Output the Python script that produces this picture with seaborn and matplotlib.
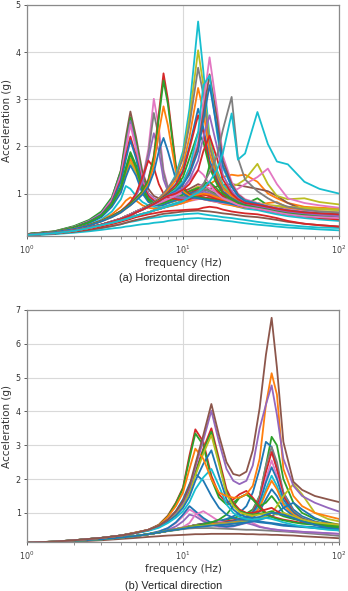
import numpy as np
import pandas as pd
import matplotlib
matplotlib.use("Agg")
import matplotlib.pyplot as plt
import seaborn as sns

# ---------------- data: panel (a) horizontal ----------------
h_freq = [1, 1.5, 2, 2.5, 3, 3.5, 4, 4.3,
          4.6, 5, 5.5, 6, 6.5, 7, 7.5, 8,
          9, 10, 11, 12.5, 13.5, 14.8, 16.5, 18,
          20.5, 22.5, 25, 30, 35, 40, 47, 60, 75, 100]

# low curves (drawn first)
h_low = [
    [0.11,0.14,0.17,0.2,0.23,0.26,0.28,0.3, 0.31,0.33,0.35,0.36,0.38,0.39,0.4,0.42, 0.44,0.46,0.47,0.48,0.47,0.46,0.45,0.43, 0.41,0.39,0.37,0.34,0.32,0.3,0.28,0.26,0.24,0.22],
    [0.12,0.15,0.19,0.23,0.27,0.31,0.35,0.38, 0.4,0.42,0.45,0.47,0.49,0.5,0.52,0.53, 0.54,0.56,0.57,0.58,0.56,0.54,0.52,0.5, 0.48,0.46,0.44,0.4,0.37,0.35,0.33,0.3,0.28,0.27],
    [0.12,0.15,0.19,0.23,0.27,0.31,0.35,0.38, 0.41,0.44,0.47,0.5,0.52,0.55,0.57,0.58, 0.6,0.62,0.63,0.64,0.63,0.62,0.6,0.58, 0.56,0.54,0.52,0.5,0.47,0.44,0.4,0.36,0.33,0.3],
    [0.12,0.16,0.2,0.25,0.3,0.35,0.4,0.43, 0.46,0.5,0.53,0.56,0.58,0.6,0.62,0.63, 0.64,0.65,0.66,0.67,0.7,0.72,0.7,0.66, 0.62,0.6,0.58,0.56,0.52,0.48,0.42,0.36,0.33,0.3],
]
h_low_colors = ["tab:cyan", "tab:cyan", "tab:brown", "tab:red"]

# broad mid-frequency curves
h_mid = [
    [0.12,0.16,0.21,0.27,0.33,0.38,0.43,0.46, 0.49,0.53,0.57,0.6,0.64,0.67,0.7,0.73, 0.78,0.84,0.9,1.0,1.1,1.2,1.3,1.35, 1.4,1.38,1.4,1.25,1.0,0.9,0.8,0.72,0.7,0.68],
    [0.12,0.16,0.21,0.27,0.33,0.38,0.43,0.46, 0.49,0.53,0.57,0.6,0.64,0.67,0.7,0.73, 0.78,0.84,0.9,0.98,1.05,1.1,1.15,1.18, 1.2,1.18,1.15,1.1,1.05,0.95,0.8,0.65,0.6,0.58],
    [0.12,0.16,0.21,0.27,0.33,0.38,0.43,0.46, 0.49,0.53,0.57,0.6,0.64,0.67,0.7,0.73, 0.76,0.8,0.85,0.9,0.95,1.0,1.05,1.1, 1.15,1.2,1.3,1.63,1.2,0.95,0.88,0.9,0.82,0.77],
    [0.12,0.16,0.21,0.27,0.33,0.38,0.43,0.46, 0.49,0.53,0.57,0.6,0.64,0.67,0.7,0.73, 0.76,0.8,0.84,0.88,0.9,0.92,0.95,1.0, 1.05,1.1,1.2,1.35,1.53,1.2,0.9,0.8,0.75,0.7],
]
h_mid_colors = ["tab:orange", "tab:brown", "tab:olive", "tab:pink"]

# peaks near 4.6 Hz
h_peak_4_6 = [
    [0.14,0.2,0.3,0.43,0.6,0.9,1.5,2.2, 2.74,2.2,1.45,1.1,0.95,0.9,0.92,0.95, 1.0,1.05,1.1,1.2,1.15,1.1,1.0,0.95, 0.9,0.85,0.8,0.8,0.72,0.68,0.62,0.6,0.58,0.55],
    [0.14,0.2,0.31,0.44,0.62,0.92,1.48,2.1, 2.61,2.1,1.35,1.0,0.88,0.82,0.85,0.9, 0.95,1.0,1.05,1.1,1.2,1.25,1.1,0.95, 0.85,0.8,0.75,0.78,0.7,0.66,0.6,0.58,0.56,0.55],
    [0.14,0.19,0.29,0.42,0.58,0.88,1.42,2.0, 2.54,2.0,1.3,1.0,0.9,0.85,0.85,0.88, 0.92,0.95,1.0,1.1,1.05,1.0,0.95,0.88, 0.82,0.78,0.72,0.7,0.65,0.62,0.58,0.55,0.52,0.5],
    [0.14,0.19,0.29,0.41,0.57,0.86,1.38,1.95, 2.46,1.95,1.25,0.98,0.88,0.84,0.86,0.9, 0.95,1.0,1.05,1.15,1.2,1.1,1.0,0.9, 0.85,0.8,0.75,0.72,0.66,0.62,0.58,0.54,0.5,0.48],
    [0.14,0.19,0.28,0.4,0.55,0.82,1.3,1.8, 2.21,1.8,1.2,0.95,0.85,0.8,0.82,0.85, 0.9,0.95,1.0,1.1,1.15,1.2,1.05,0.95, 0.9,0.85,0.8,0.78,0.7,0.66,0.6,0.56,0.55,0.52],
    [0.14,0.19,0.28,0.4,0.55,0.8,1.25,1.72, 2.13,1.75,1.15,0.9,0.82,0.78,0.8,0.82, 0.88,0.92,0.98,1.05,1.0,0.95,0.9,0.85, 0.8,0.76,0.72,0.7,0.65,0.62,0.58,0.55,0.52,0.5],
    [0.14,0.19,0.28,0.39,0.53,0.78,1.15,1.55, 1.88,1.6,1.1,0.88,0.8,0.76,0.78,0.8, 0.85,0.9,0.95,1.0,1.1,1.6,1.3,1.0, 0.88,0.82,0.76,0.72,0.66,0.62,0.58,0.55,0.54,0.52],
    [0.14,0.19,0.27,0.38,0.52,0.75,1.08,1.4, 1.67,1.45,1.05,0.85,0.78,0.75,0.78,0.82, 0.88,0.95,1.05,1.15,1.1,1.05,0.95,0.88, 0.82,0.78,0.74,0.72,0.7,0.72,0.7,0.68,0.66,0.65],
    [0.14,0.19,0.27,0.38,0.52,0.76,1.1,1.45, 1.74,1.5,1.05,0.85,0.78,0.74,0.76,0.8, 0.85,0.9,0.95,1.0,0.98,0.95,0.9,0.85, 0.8,0.75,0.7,0.68,0.64,0.6,0.56,0.52,0.5,0.48],
    [0.14,0.19,0.27,0.37,0.5,0.72,1.02,1.35, 1.6,1.38,1.0,0.82,0.76,0.74,0.76,0.8, 0.86,0.92,1.0,1.05,1.0,0.95,0.9,0.85, 0.8,0.76,0.72,0.7,0.66,0.62,0.58,0.55,0.52,0.5],
    [0.14,0.19,0.28,0.39,0.53,0.77,1.12,1.5, 1.83,1.55,1.08,0.86,0.8,0.78,0.8,0.84, 0.9,0.98,1.05,1.12,1.1,1.05,0.98,0.9, 0.85,0.8,0.78,0.9,0.75,0.7,0.66,0.62,0.6,0.58],
    [0.13,0.18,0.25,0.34,0.45,0.62,0.88,1.16, 1.1,0.95,0.82,0.75,0.72,0.7,0.72,0.75, 0.8,0.85,0.9,0.95,0.92,0.88,0.84,0.8, 0.76,0.72,0.68,0.65,0.6,0.56,0.52,0.48,0.45,0.42],
    [0.13,0.18,0.25,0.33,0.43,0.56,0.72,0.85, 0.92,0.85,0.75,0.7,0.68,0.68,0.7,0.72, 0.76,0.8,0.85,0.9,0.88,0.85,0.82,0.78, 0.75,0.72,0.7,0.75,0.8,0.82,0.7,0.65,0.62,0.6],
]
h_peak_4_6_colors = ["tab:brown", "tab:green", "tab:purple", "tab:pink", "tab:red", "tab:blue",
                     "tab:green", "tab:olive", "tab:orange", "tab:blue", "tab:green", "tab:cyan", "tab:orange"]

# peaks near 6.5 Hz
h_peak_6_5 = [
    [0.13,0.18,0.25,0.33,0.42,0.52,0.62,0.7, 0.78,0.95,1.3,1.95,3.01,2.4,1.5,1.15, 0.95,0.9,0.88,0.9,0.88,0.85,0.82,0.8, 0.78,0.75,0.72,0.7,0.66,0.62,0.58,0.55,0.52,0.5],
    [0.13,0.18,0.25,0.33,0.42,0.52,0.63,0.72, 0.8,0.98,1.3,1.85,2.71,2.2,1.45,1.1, 0.95,0.92,0.95,1.05,1.1,1.05,0.95,0.9, 0.85,0.8,0.76,0.72,0.68,0.65,0.6,0.58,0.56,0.55],
    [0.13,0.18,0.25,0.33,0.42,0.52,0.62,0.7, 0.78,0.95,1.25,1.75,2.28,1.9,1.3,1.05, 0.92,0.9,0.92,1.0,1.05,1.0,0.92,0.85, 0.8,0.76,0.72,0.7,0.66,0.62,0.58,0.55,0.52,0.5],
    [0.13,0.18,0.25,0.33,0.42,0.52,0.63,0.72, 0.82,1.0,1.35,1.7,1.55,1.2,1.0,0.92, 0.88,0.86,0.88,0.95,0.98,0.95,0.9,0.85, 0.8,0.76,0.72,0.7,0.66,0.62,0.58,0.55,0.52,0.5],
]
h_peak_6_5_colors = ["tab:pink", "tab:gray", "tab:purple", "tab:red"]

# peaks near 7.5 Hz
h_peak_7_5 = [
    [0.13,0.18,0.25,0.33,0.42,0.52,0.62,0.7, 0.78,0.9,1.05,1.3,1.8,2.7,3.55,3.0, 1.6,1.15,0.98,0.95,0.92,0.9,0.88,0.85, 0.8,0.76,0.72,0.68,0.64,0.6,0.56,0.52,0.48,0.45],
    [0.13,0.18,0.25,0.33,0.42,0.52,0.62,0.7, 0.78,0.9,1.05,1.28,1.75,2.6,3.4,2.9, 1.55,1.1,0.95,0.92,0.9,0.88,0.85,0.82, 0.8,0.76,0.72,0.7,0.66,0.62,0.58,0.55,0.52,0.5],
    [0.13,0.18,0.25,0.32,0.41,0.5,0.6,0.68, 0.75,0.86,1.0,1.2,1.6,2.3,2.85,2.45, 1.45,1.05,0.95,0.98,1.0,0.98,0.92,0.88, 0.82,0.78,0.74,0.7,0.66,0.62,0.58,0.55,0.52,0.5],
    [0.13,0.18,0.25,0.32,0.41,0.5,0.6,0.68, 0.75,0.85,0.98,1.15,1.45,1.9,2.18,1.9, 1.3,1.0,0.92,0.9,0.88,0.86,0.84,0.82, 0.78,0.75,0.72,0.68,0.64,0.6,0.56,0.52,0.5,0.48],
]
h_peak_7_5_colors = ["tab:red", "tab:green", "tab:orange", "tab:blue"]

# peaks near 12.5 Hz
h_peak_12_5 = [
    [0.12,0.16,0.22,0.28,0.34,0.4,0.46,0.5, 0.54,0.6,0.66,0.72,0.8,0.88,0.98,1.1, 1.4,1.9,2.8,4.65,3.6,2.2,1.5,1.2, 1.0,0.9,0.82,0.76,0.7,0.66,0.62,0.6,0.58,0.56],
    [0.12,0.16,0.22,0.28,0.34,0.4,0.46,0.5, 0.54,0.6,0.66,0.72,0.8,0.88,0.98,1.1, 1.35,1.8,2.6,4.04,3.3,2.1,1.45,1.15, 0.98,0.9,0.84,0.8,0.76,0.74,0.72,0.7,0.68,0.66],
    [0.12,0.16,0.22,0.28,0.34,0.41,0.47,0.52, 0.56,0.62,0.68,0.75,0.82,0.9,1.0,1.12, 1.35,1.75,2.45,3.67,3.1,2.0,1.4,1.12, 0.95,0.85,0.78,0.72,0.68,0.64,0.6,0.58,0.56,0.55],
    [0.12,0.16,0.22,0.28,0.34,0.41,0.47,0.52, 0.56,0.62,0.68,0.74,0.8,0.88,0.96,1.06, 1.28,1.6,2.2,3.24,2.75,1.85,1.35,1.1, 0.95,0.88,0.8,0.75,0.7,0.66,0.62,0.6,0.58,0.56],
    [0.12,0.16,0.22,0.28,0.34,0.41,0.47,0.52, 0.56,0.62,0.68,0.74,0.8,0.86,0.94,1.02, 1.2,1.5,2.0,2.8,2.4,1.7,1.3,1.05, 0.9,0.82,0.76,0.72,0.68,0.64,0.6,0.56,0.54,0.52],
    [0.12,0.16,0.22,0.28,0.34,0.41,0.47,0.52, 0.56,0.62,0.68,0.74,0.8,0.86,0.93,1.0, 1.18,1.45,1.95,2.66,2.3,1.6,1.25,1.02, 0.88,0.8,0.74,0.7,0.66,0.62,0.58,0.54,0.5,0.46],
    [0.12,0.16,0.22,0.28,0.34,0.41,0.47,0.52, 0.56,0.62,0.68,0.74,0.8,0.86,0.92,0.98, 1.12,1.35,1.75,2.3,2.1,1.55,1.2,1.0, 0.88,0.8,0.75,0.7,0.66,0.62,0.58,0.55,0.52,0.5],
    [0.12,0.16,0.22,0.28,0.34,0.41,0.47,0.52, 0.56,0.62,0.68,0.72,0.76,0.8,0.84,0.88, 0.96,1.08,1.28,1.5,1.4,1.2,1.0,0.9, 0.82,0.76,0.72,0.68,0.64,0.6,0.56,0.52,0.5,0.48],
]
h_peak_12_5_colors = ["tab:cyan", "tab:olive", "tab:gray", "tab:orange", "tab:blue", "tab:red", "tab:green", "tab:pink"]

# peaks near 14.8 Hz
h_peak_14_8 = [
    [0.12,0.16,0.22,0.28,0.34,0.4,0.46,0.5, 0.54,0.6,0.66,0.72,0.78,0.84,0.9,0.96, 1.08,1.25,1.5,2.1,2.9,3.89,2.8,1.8, 1.25,1.0,0.88,0.8,0.74,0.7,0.66,0.62,0.6,0.58],
    [0.12,0.16,0.22,0.28,0.34,0.4,0.46,0.5, 0.54,0.6,0.66,0.72,0.78,0.84,0.9,0.96, 1.06,1.2,1.45,2.0,2.7,3.53,2.6,1.7, 1.2,0.98,0.86,0.78,0.72,0.68,0.64,0.6,0.56,0.52],
    [0.12,0.16,0.22,0.28,0.34,0.4,0.46,0.5, 0.54,0.6,0.66,0.72,0.78,0.84,0.9,0.96, 1.08,1.25,1.55,2.3,3.3,3.5,2.3,1.55, 1.15,0.95,0.85,0.78,0.72,0.68,0.64,0.6,0.58,0.56],
    [0.12,0.16,0.22,0.28,0.34,0.4,0.46,0.5, 0.54,0.6,0.66,0.72,0.78,0.84,0.9,0.96, 1.05,1.2,1.4,1.9,2.55,3.3,2.4,1.6, 1.15,0.95,0.84,0.78,0.72,0.68,0.64,0.6,0.58,0.56],
    [0.12,0.16,0.22,0.28,0.34,0.4,0.46,0.5, 0.54,0.6,0.66,0.72,0.78,0.84,0.9,0.95, 1.02,1.12,1.3,1.7,2.2,2.66,2.0,1.4, 1.05,0.9,0.8,0.74,0.7,0.66,0.62,0.58,0.55,0.52],
    [0.12,0.16,0.22,0.28,0.34,0.4,0.46,0.5, 0.54,0.6,0.66,0.72,0.78,0.84,0.9,0.95, 1.0,1.08,1.2,1.5,1.9,2.23,1.75,1.3, 1.0,0.88,0.8,0.76,0.72,0.68,0.64,0.6,0.58,0.56],
]
h_peak_14_8_colors = ["tab:pink", "tab:brown", "tab:cyan", "tab:blue", "tab:purple", "tab:red"]

# peaks above 20 Hz
h_peak_high = [
    [0.12,0.16,0.21,0.27,0.33,0.38,0.43,0.46, 0.49,0.53,0.57,0.6,0.64,0.67,0.7,0.73, 0.78,0.84,0.92,1.05,1.2,1.45,1.8,2.35, 3.05,1.75,1.3,1.05,0.9,0.8,0.72,0.66,0.62,0.6],
    [0.12,0.16,0.21,0.27,0.33,0.38,0.43,0.46, 0.49,0.53,0.57,0.6,0.64,0.67,0.7,0.73, 0.78,0.84,0.92,1.02,1.12,1.25,1.5,1.85, 2.7,1.72,1.85,2.73,2.05,1.68,1.62,1.25,1.1,1.0],
]
h_peak_high_colors = ["tab:gray", "tab:cyan"]

# ---------------- data: panel (b) vertical ----------------
v_freq = [1, 1.5, 2, 3, 4, 5, 6, 7,
          8, 9, 10, 11, 12, 13.5, 15.2, 17,
          19, 21, 23, 25.5, 28, 31, 34, 37,
          40, 44, 51, 58, 70, 85, 100]

v_low = [
    [0.11,0.13,0.15,0.19,0.23,0.26,0.29,0.31, 0.33,0.34,0.35,0.36,0.37,0.37,0.38,0.38, 0.38,0.38,0.38,0.37,0.37,0.36,0.36,0.35, 0.35,0.34,0.33,0.31,0.29,0.27,0.25],
    [0.12,0.14,0.17,0.22,0.27,0.32,0.37,0.42, 0.46,0.49,0.52,0.54,0.55,0.55,0.55,0.54, 0.53,0.52,0.51,0.5,0.5,0.49,0.48,0.47, 0.46,0.45,0.43,0.41,0.38,0.35,0.32],
    [0.12,0.14,0.17,0.22,0.27,0.32,0.37,0.45, 0.55,0.7,0.9,1.1,1.0,0.8,0.65,0.6, 0.62,0.68,0.75,0.8,0.7,0.6,0.55,0.52, 0.5,0.48,0.46,0.44,0.42,0.4,0.38],
    [0.12,0.14,0.17,0.22,0.27,0.32,0.37,0.43, 0.5,0.6,0.75,0.95,0.9,0.75,0.65,0.6, 0.58,0.6,0.65,0.7,0.65,0.58,0.55,0.52, 0.5,0.48,0.46,0.44,0.42,0.4,0.38],
    [0.12,0.14,0.17,0.22,0.27,0.32,0.38,0.45, 0.55,0.72,0.95,1.2,1.05,0.85,0.7,0.62, 0.6,0.62,0.66,0.72,0.75,0.72,0.7,0.68, 0.65,0.62,0.6,0.58,0.55,0.52,0.5],
]
v_low_colors = ["tab:brown", "tab:gray", "tab:pink", "tab:purple", "tab:blue"]

# peaks near 37 Hz and above
v_peak_37 = [
    [0.12,0.14,0.17,0.22,0.27,0.32,0.37,0.42, 0.47,0.52,0.56,0.6,0.64,0.68,0.72,0.76, 0.8,0.85,0.9,0.98,1.1,1.5,2.4,3.25, 3.0,2.0,1.3,1.0,0.82,0.72,0.65],
    [0.12,0.14,0.17,0.22,0.27,0.32,0.37,0.42, 0.47,0.52,0.56,0.6,0.64,0.68,0.72,0.76, 0.82,0.9,1.0,1.2,1.6,2.3,3.1,2.95, 2.3,1.6,1.1,0.9,0.75,0.66,0.6],
    [0.12,0.14,0.17,0.22,0.27,0.32,0.37,0.42, 0.47,0.52,0.56,0.6,0.64,0.67,0.7,0.72, 0.75,0.78,0.82,0.9,1.05,1.5,2.4,2.95, 2.5,1.6,1.05,0.85,0.72,0.65,0.6],
    [0.12,0.14,0.17,0.22,0.27,0.32,0.37,0.42, 0.47,0.52,0.56,0.6,0.64,0.67,0.7,0.72, 0.75,0.78,0.82,0.88,1.0,1.4,2.2,2.8, 2.3,1.5,1.0,0.82,0.7,0.62,0.58],
    [0.12,0.14,0.17,0.22,0.27,0.32,0.37,0.42, 0.47,0.52,0.58,0.7,0.95,1.05,0.9,0.75, 0.7,0.72,0.76,0.82,0.95,1.3,2.0,2.55, 2.1,1.4,0.95,0.78,0.66,0.6,0.55],
    [0.12,0.14,0.17,0.22,0.27,0.32,0.37,0.42, 0.47,0.52,0.56,0.6,0.63,0.66,0.68,0.7, 0.72,0.75,0.8,0.88,1.0,1.3,1.9,2.35, 2.0,1.4,1.0,0.82,0.7,0.6,0.55],
    [0.12,0.14,0.17,0.22,0.27,0.32,0.37,0.42, 0.47,0.52,0.56,0.6,0.63,0.65,0.67,0.69, 0.7,0.72,0.76,0.82,0.92,1.2,1.7,2.1, 1.8,1.3,0.95,0.78,0.66,0.58,0.52],
    [0.12,0.14,0.17,0.22,0.27,0.32,0.37,0.42, 0.47,0.52,0.56,0.6,0.63,0.65,0.67,0.69, 0.7,0.72,0.75,0.8,0.9,1.15,1.6,1.95, 1.7,1.25,0.95,0.8,0.7,0.64,0.6],
    [0.12,0.14,0.17,0.22,0.27,0.32,0.37,0.42, 0.47,0.5,0.54,0.58,0.6,0.62,0.64,0.66, 0.68,0.7,0.72,0.76,0.85,1.05,1.4,1.7, 1.5,1.15,0.9,0.75,0.65,0.58,0.52],
    [0.12,0.14,0.17,0.22,0.27,0.32,0.37,0.42, 0.47,0.5,0.54,0.58,0.62,0.66,0.72,0.8, 0.95,1.2,1.45,1.55,1.4,1.2,1.3,1.5, 1.3,1.0,0.85,0.75,0.66,0.6,0.55],
    [0.12,0.14,0.17,0.22,0.27,0.32,0.37,0.42, 0.47,0.5,0.54,0.57,0.6,0.62,0.64,0.66, 0.68,0.7,0.72,0.75,0.8,0.85,0.9,1.0, 1.2,1.5,1.85,1.55,1.0,0.82,0.75],
    [0.12,0.14,0.17,0.22,0.27,0.32,0.37,0.42, 0.47,0.5,0.53,0.56,0.58,0.6,0.62,0.64, 0.66,0.68,0.7,0.72,0.75,0.8,0.85,0.9, 1.0,1.15,1.3,1.1,0.85,0.7,0.62],
]
v_peak_37_colors = ["tab:green", "tab:blue", "tab:gray", "tab:red", "tab:pink", "tab:blue",
                    "tab:cyan", "tab:orange", "tab:blue", "tab:green", "tab:olive", "tab:blue"]

# peaks near 12 Hz
v_peak_12 = [
    [0.12,0.15,0.19,0.26,0.33,0.42,0.5,0.65, 0.92,1.3,1.75,2.7,3.47,3.1,2.1,1.55, 1.3,1.4,1.55,1.65,1.45,1.2,1.0,0.9, 0.85,0.8,0.75,0.7,0.68,0.65,0.62],
    [0.12,0.15,0.19,0.26,0.33,0.42,0.5,0.64, 0.9,1.28,1.72,2.6,3.35,3.0,2.0,1.45, 1.25,1.3,1.45,1.55,1.4,1.15,0.95,0.88, 0.82,0.78,0.72,0.68,0.65,0.62,0.6],
    [0.12,0.15,0.19,0.26,0.33,0.41,0.49,0.6, 0.8,1.05,1.4,1.85,2.15,1.95,1.5,1.15, 0.95,0.85,0.8,0.8,0.78,0.75,0.72,0.7, 0.68,0.65,0.62,0.6,0.58,0.55,0.52],
]
v_peak_12_colors = ["tab:red", "tab:green", "tab:blue"]

# peaks near 15 Hz
v_peak_15 = [
    [0.12,0.15,0.19,0.26,0.33,0.41,0.49,0.6, 0.78,0.98,1.25,1.65,2.2,2.9,3.5,2.6, 1.7,1.3,1.1,1.0,1.0,1.05,1.1,1.15, 1.05,0.95,0.85,0.78,0.72,0.68,0.65],
    [0.12,0.15,0.19,0.26,0.33,0.41,0.49,0.6, 0.78,0.98,1.25,1.62,2.15,2.85,3.4,2.5, 1.6,1.25,1.05,0.98,0.95,0.98,1.0,1.05, 0.98,0.9,0.82,0.76,0.7,0.66,0.62],
    [0.12,0.15,0.19,0.26,0.33,0.41,0.49,0.6, 0.77,0.96,1.22,1.58,2.1,2.75,3.3,2.45, 1.55,1.2,1.02,0.95,0.92,0.95,0.98,1.0, 0.95,1.0,0.9,0.8,0.72,0.68,0.65],
    [0.12,0.15,0.19,0.26,0.33,0.41,0.48,0.58, 0.74,0.92,1.15,1.48,1.95,2.45,2.85,2.1, 1.4,1.1,0.95,0.88,0.85,0.88,0.95,1.0, 0.98,0.95,0.85,0.75,0.65,0.55,0.48],
    [0.12,0.15,0.19,0.26,0.33,0.4,0.47,0.56, 0.7,0.86,1.05,1.32,1.7,2.05,2.3,1.8, 1.25,1.0,0.88,0.82,0.8,0.82,0.85,0.82, 0.78,0.72,0.65,0.6,0.55,0.5,0.48],
]
v_peak_15_colors = ["tab:red", "tab:green", "tab:olive", "tab:blue", "tab:cyan"]

# double-peak curves (15 Hz and 37 Hz)
v_double = [
    [0.12,0.15,0.19,0.26,0.33,0.42,0.5,0.63, 0.88,1.2,1.6,2.3,2.9,2.6,2.0,1.6, 1.5,1.45,1.45,1.55,1.8,2.6,4.2,5.13, 4.5,2.3,1.5,1.2,1.0,0.9,0.82],
    [0.12,0.15,0.19,0.26,0.33,0.41,0.5,0.62, 0.8,1.02,1.3,1.72,2.35,3.15,4.02,3.1, 2.3,1.95,1.85,1.95,2.4,3.5,4.2,4.77, 3.9,2.6,1.8,1.5,1.3,1.15,1.04],
    [0.12,0.15,0.19,0.26,0.33,0.41,0.5,0.62, 0.8,1.05,1.35,1.8,2.45,3.3,4.22,3.3, 2.5,2.15,2.1,2.22,2.85,4.1,5.67,6.77, 5.3,3.1,1.92,1.68,1.5,1.4,1.32],
]
v_double_colors = ["tab:orange", "tab:purple", "tab:brown"]


def long_frame(freq, groups):
    rows = []
    pal = {}
    k = 0
    for curves, colors in groups:
        for vals, col in zip(curves, colors):
            assert len(vals) == len(freq), (len(vals), len(freq))
            name = f"c{k:02d}"
            pal[name] = col
            for f, a in zip(freq, vals):
                rows.append((f, a, name))
            k += 1
    return pd.DataFrame(rows, columns=["freq", "accel", "curve"]), pal


h_groups = [(h_low, h_low_colors), (h_mid, h_mid_colors), (h_peak_4_6, h_peak_4_6_colors),
            (h_peak_6_5, h_peak_6_5_colors), (h_peak_7_5, h_peak_7_5_colors),
            (h_peak_12_5, h_peak_12_5_colors), (h_peak_14_8, h_peak_14_8_colors),
            (h_peak_high, h_peak_high_colors)]
v_groups = [(v_low, v_low_colors), (v_peak_37, v_peak_37_colors), (v_peak_12, v_peak_12_colors),
            (v_peak_15, v_peak_15_colors), (v_double, v_double_colors)]

h_df, h_pal = long_frame(h_freq, h_groups)
v_df, v_pal = long_frame(v_freq, v_groups)

# ---------------- drawing ----------------
sns.set_style("whitegrid")
plt.rcParams["font.family"] = ["DejaVu Sans"]

fig = plt.figure(figsize=(3.48, 5.91), dpi=100)
W, H = 348, 591
ax_a = fig.add_axes([27 / W, 1 - 236 / H, 312 / W, 231 / H])
ax_b = fig.add_axes([27 / W, 1 - 542.3 / H, 312 / W, 232.3 / H])

for ax, df, pal, ylim, yticks, cap, cap_y in [
        (ax_a, h_df, h_pal, (0.1, 5), [1, 2, 3, 4, 5], "(a) Horizontal direction", 278),
        (ax_b, v_df, v_pal, (0.13, 7), [1, 2, 3, 4, 5, 6, 7], "(b) Vertical direction", 586)]:
    sns.lineplot(data=df, x="freq", y="accel", hue="curve", palette=pal,
                 estimator=None, sort=False, legend=False, linewidth=1.3, ax=ax)
    ax.set_xscale("log")
    ax.set_xlim(1, 100)
    ax.set_ylim(*ylim)
    ax.set_yticks(yticks)
    ax.set_yticklabels([str(t) for t in yticks])
    ax.grid(True, which="major", color="#d9d9d9", linewidth=0.8)
    ax.grid(False, which="minor")
    for sp in ax.spines.values():
        sp.set_color("#8a8a8a")
        sp.set_linewidth(0.9)
    ax.tick_params(axis="both", which="major", labelsize=5.8, colors="#444444",
                   length=2.5, width=0.6, pad=2, direction="out")
    ax.tick_params(axis="x", which="minor", length=1.8, width=0.5, color="#666666",
                   direction="out", bottom=True)
    ax.tick_params(axis="x", which="major", bottom=True, pad=3)
    ax.tick_params(axis="y", which="major", left=True, labelcolor="#333333")
    ax.set_xlabel("frequency (Hz)", fontsize=7.5, color="#333333", labelpad=1.5)
    ax.set_ylabel("Acceleration (g)", fontsize=7.5, color="#333333", labelpad=2.5)
    fig.text(174 / W, 1 - cap_y / H, cap, ha="center", va="center", fontsize=7.8,
             family=["Liberation Sans Narrow", "Liberation Sans", "DejaVu Sans"], color="#222222")

fig.savefig("out.png", dpi=100, facecolor="white")
